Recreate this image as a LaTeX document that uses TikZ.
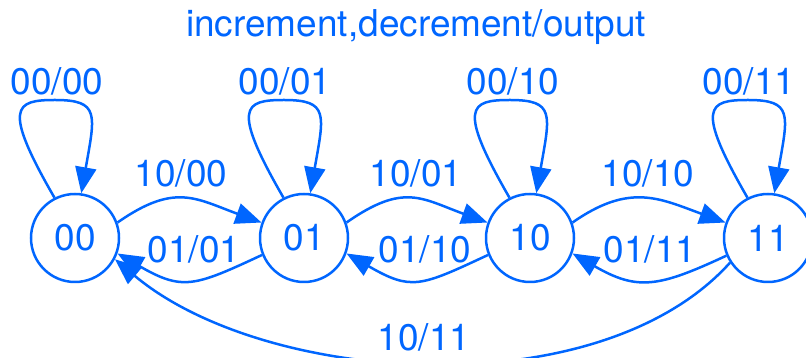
\documentclass[tikz,border=0pt]{standalone}
\usepackage{fontspec}
\setmainfont{TeX Gyre Heros}
\usetikzlibrary{arrows.meta}
\definecolor{fsmblue}{RGB}{0,102,255}

\begin{document}
\begin{tikzpicture}[
  x=1pt, y=1pt,
  every node/.style={text=fsmblue, font=\fontsize{37}{42}\selectfont},
  state/.style={circle, draw=fsmblue, line width=2.5pt, minimum size=88pt, inner sep=0pt},
  trans/.style={draw=fsmblue, line width=2.5pt, -{Triangle[length=26pt, width=21pt]}},
  loopup/.style={out=120, in=180, out distance=105pt, in distance=40pt},
  loopdown/.style={out=0, in=80, out distance=45pt, in distance=80pt}
]
  \useasboundingbox (0,0) rectangle (806,358);
  \node[anchor=base] (title) at (416,321) {increment,decrement/output};

  % states
  \node[state] (s00) at (75,120) {00};
  \node[state] (s01) at (304,120) {01};
  \node[state] (s10) at (530,120) {10};
  \node[state] (s11) at (768,120) {11};

  % hold
  \coordinate (t00) at (55,258);
  \coordinate (t01) at (284,258);
  \coordinate (t10) at (510,258);
  \coordinate (t11) at (748,258);
  \draw[trans] (s00.117) to[loopup] (t00) to[loopdown] (s00.82);
  \draw[trans] (s01.117) to[loopup] (t01) to[loopdown] (s01.82);
  \draw[trans] (s10.117) to[loopup] (t10) to[loopdown] (s10.82);
  \draw[trans] (s11.117) to[loopup] (t11) to[loopdown] (s11.82);
  \node[anchor=base] (h00) at (57,263) {00/00};
  \node[anchor=base] (h01) at (285,263) {00/01};
  \node[anchor=base] (h10) at (513,263) {00/10};
  \node[anchor=base] (h11) at (749,263) {00/11};

  % up
  \draw[trans] (s00.20) to[out=35, in=160, distance=70pt] (s01.160);
  \draw[trans] (s01.20) to[out=35, in=160, distance=70pt] (s10.160);
  \draw[trans] (s10.20) to[out=35, in=160, distance=70pt] (s11.160);
  \node[anchor=base] (u0) at (181,171) {10/00};
  \node[anchor=base] (u1) at (416,171) {10/01};
  \node[anchor=base] (u2) at (648,171) {10/10};

  % down
  \draw[trans] (s01.202) to[out=205, in=-30, distance=75pt] (s00.-20);
  \draw[trans] (s10.202) to[out=205, in=-30, distance=75pt] (s01.-20);
  \draw[trans] (s11.203) to[out=205, in=-30, distance=75pt] (s10.-20);
  \node[anchor=base] (d0) at (194,95) {01/01};
  \node[anchor=base] (d1) at (425,95) {01/10};
  \node[anchor=base] (d2) at (650,95) {01/11};

  % wrap around
  \draw[trans] (s11.213) to[out=228, in=-40, distance=196pt] (s00.-28);
  \node[anchor=base] (w) at (424,7) {10/11};
\end{tikzpicture}
\end{document}
